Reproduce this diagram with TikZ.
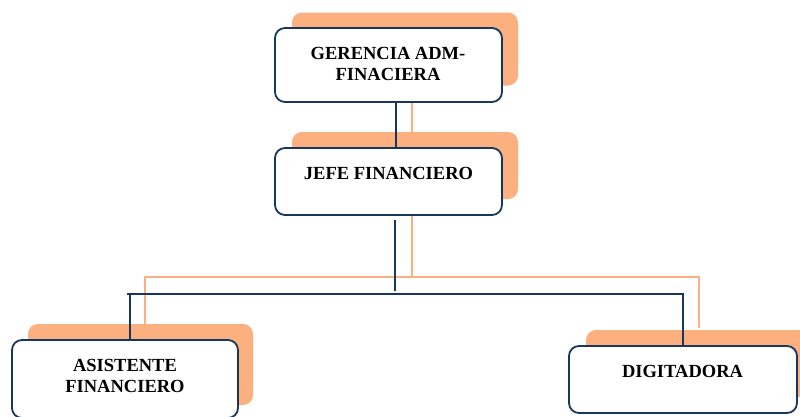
\documentclass[tikz,border=0pt]{standalone}
\usepackage{fontspec}
\setmainfont{Liberation Serif}
\definecolor{navy}{RGB}{23,55,94}
\definecolor{peach}{RGB}{252,176,128}
\tikzset{
  shadowbox/.style={fill=peach, rounded corners=10pt, inner sep=0pt},
  orgbox/.style={draw=navy, line width=1.8pt, fill=white, rounded corners=10pt, inner sep=0pt},
  lbl/.style={font=\bfseries\fontsize{18.5}{21}\selectfont, align=center, inner sep=0pt},
  navyline/.style={draw=navy, line width=1.8pt},
  peachline/.style={draw=peach, line width=1.5pt}
}
\begin{document}
\begin{tikzpicture}[x=1pt,y=-1pt]
\useasboundingbox (0,0) rectangle (800,416);
\begin{scope}
\clip (0,0) rectangle (800,416);
% shadows
\node[shadowbox, minimum width=226pt, minimum height=73pt] (gs) at (405,49) {};
\node[shadowbox, minimum width=226pt, minimum height=67pt] (js) at (405,165.5) {};
\node[shadowbox, minimum width=225pt, minimum height=81pt] (as) at (140.5,364.5) {};
\node[shadowbox, minimum width=226pt, minimum height=67pt] (ds) at (699,363.5) {};
% peach connectors
\coordinate (p1) at (412,85);
\coordinate (p2) at (412,133);
\coordinate (p3) at (412,204);
\coordinate (p4) at (412,277);
\coordinate (pl) at (145,277);
\coordinate (pr) at (699,277);
\coordinate (pla) at (145,330);
\coordinate (pra) at (699,328);
\draw[peachline] (p1) -- (p2);
\draw[peachline] (p3) -- (p4);
\draw[peachline] (pla) -- (pl) -- (pr) -- (pra);
% boxes
\node[orgbox, minimum width=227pt, minimum height=74pt] (g) at (388.5,65) {};
\node[orgbox, minimum width=227pt, minimum height=67pt] (j) at (388.5,181.5) {};
\node[orgbox, minimum width=226pt, minimum height=78pt] (a) at (125,379) {};
\node[orgbox, minimum width=228pt, minimum height=67pt] (d) at (683,379.5) {};
% labels
\node[lbl] (gt) at (388,64) {GERENCIA ADM-\\FINACIERA};
\node[lbl] (jt) at (388.5,173.5) {JEFE FINANCIERO};
\node[lbl] (at) at (125,376) {ASISTENTE\\FINANCIERO};
\node[lbl] (dt) at (682.5,371) {DIGITADORA};
% navy connectors
\coordinate (nj) at (395,220);
\coordinate (n1) at (395,291);
\coordinate (nl) at (127,294);
\coordinate (nr) at (683,294);
\coordinate (nla) at (130,294);
\draw[navyline] ([xshift=7.5pt]g.south) -- ([xshift=7.5pt]j.north);
\draw[navyline] (nj) -- (n1);
\draw[navyline] (nl) -- (nr) -- (d.north -| nr);
\draw[navyline] (nla) -- (a.north -| nla);
\end{scope}
\end{tikzpicture}
\end{document}
